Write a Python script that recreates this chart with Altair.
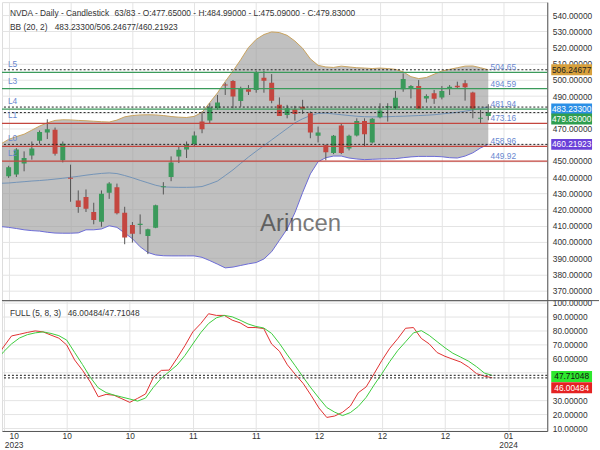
import altair as alt
import pandas as pd

# ---------------- data ----------------
opens = [440.6, 441.6, 448.4, 453.4, 462.5, 467.6, 469.2, 450.4, 439.6, 425.6,
         427.7, 418.5, 412.5, 430.3, 433.8, 418.0, 410.5, 410.5, 403.7, 408.8,
         433.8, 440.1, 452.8, 457.0, 460.4, 474.3, 474.9, 482.5, 497.2, 499.3,
         487.0, 494.2, 493.8, 501.3, 498.3, 484.6, 478.4, 481.9, 483.5, 479.4,
         465.5, 459.6, 454.9, 471.9, 457.6, 465.7, 474.7, 461.4, 477.0, 483.0,
         482.5, 494.2, 494.8, 496.2, 488.6, 491.7, 489.2, 494.8, 496.4, 497.9,
         492.3, 476.0, 477.65]
highs = [447.0, 457.9, 455.9, 462.0, 468.8, 475.7, 470.6, 462.0, 447.7, 431.8,
         432.4, 424.2, 431.8, 436.9, 436.0, 421.7, 412.3, 417.0, 408.2, 423.0,
         436.9, 452.8, 459.0, 462.0, 468.2, 480.5, 485.6, 490.7, 498.3, 499.9,
         495.8, 496.8, 505.6, 505.6, 503.6, 489.2, 484.6, 484.0, 487.7, 480.5,
         471.2, 460.0, 466.0, 473.3, 466.2, 476.3, 476.3, 476.5, 485.6, 485.6,
         493.2, 504.0, 496.8, 499.9, 491.1, 493.8, 496.2, 496.8, 498.9, 499.9,
         492.7, 481.5, 484.99]
lows = [439.5, 440.1, 443.6, 450.8, 460.6, 463.5, 453.3, 449.1, 424.8, 418.0,
        418.5, 410.9, 409.4, 426.6, 417.0, 398.6, 399.6, 404.8, 392.5, 408.5,
        429.3, 437.5, 448.7, 451.8, 459.0, 467.1, 473.3, 481.5, 490.7, 482.5,
        483.5, 490.7, 492.1, 492.1, 485.6, 477.8, 476.3, 474.9, 479.0, 464.0,
        461.4, 450.4, 454.2, 454.2, 456.5, 465.1, 459.0, 460.8, 476.3, 474.3,
        481.9, 492.7, 488.6, 481.9, 486.0, 485.2, 488.0, 490.7, 494.8, 487.2,
        476.3, 473.3, 475.09]
closes = [446.1, 457.0, 451.8, 457.6, 467.8, 469.6, 454.5, 460.6, 439.0, 421.5,
          420.5, 413.6, 429.7, 436.0, 417.7, 402.7, 405.1, 411.2, 407.8, 422.7,
          434.4, 449.1, 456.9, 460.0, 465.7, 469.6, 482.9, 486.0, 496.6, 489.7,
          494.8, 492.7, 504.4, 499.5, 487.2, 477.8, 482.5, 479.0, 482.1, 467.6,
          467.6, 455.3, 465.5, 454.9, 465.5, 474.7, 466.5, 476.0, 481.1, 483.8,
          489.0, 500.5, 496.2, 482.1, 490.0, 488.3, 493.2, 495.8, 495.4, 495.4,
          482.1, 476.6, 479.83]

# Bollinger band (20, 2), starting one bar before the first visible candle
bb_upper = [460.5, 463.3, 465.0, 466.5, 469.0, 471.5, 473.5, 475.0, 475.4, 475.3, 475.0,
            474.8, 474.5, 474.2, 474.0, 475.2, 477.2, 478.0, 478.4, 478.5, 478.4,
            478.0, 477.4, 477.0, 476.8, 477.5, 480.0, 486.0, 492.0, 499.0, 505.5,
            512.5, 520.0, 525.0, 528.0, 529.6, 529.2, 527.5, 524.0, 519.5, 513.0,
            509.0, 508.0, 507.7, 508.5, 508.0, 507.5, 507.3, 507.0, 507.3, 507.0,
            506.5, 505.0, 502.0, 500.8, 501.5, 503.5, 505.5, 506.5, 507.5, 508.5,
            508.6, 507.5, 506.24677]
bb_mid = [436.2, 436.4, 436.8, 437.2, 437.6, 437.9, 438.3, 438.8, 439.3, 439.9, 440.5,
          441.2, 441.8, 442.3, 442.6, 442.2, 441.0, 439.6, 438.0, 436.5, 435.0,
          434.0, 433.8, 433.7, 433.7, 433.8, 434.2, 435.8, 437.6, 441.0, 444.5,
          448.5, 452.4, 456.0, 459.5, 463.0, 466.5, 470.0, 473.5, 476.0, 478.0,
          479.3, 479.5, 479.0, 478.5, 478.0, 477.6, 477.3, 477.2, 477.2, 477.3,
          477.5, 477.6, 477.8, 478.0, 478.2, 478.5, 479.0, 479.5, 480.0, 480.7,
          481.5, 482.4, 483.233]
bb_lower = [409.5, 409.0, 408.3, 407.5, 407.0, 406.7, 406.0, 405.5, 405.4, 405.4, 405.6,
            407.5, 407.5, 408.0, 410.0, 409.0, 405.5, 402.0, 397.0, 393.5, 392.0,
            391.5, 391.4, 391.4, 391.4, 391.4, 390.5, 388.5, 386.3, 384.0, 384.5,
            385.5, 386.5, 387.3, 389.5, 394.0, 401.0, 408.0, 418.0, 430.5, 442.0,
            449.5, 452.0, 453.0, 453.0, 451.8, 451.2, 450.8, 451.0, 451.2, 451.3,
            451.4, 452.0, 452.5, 452.8, 452.8, 452.8, 452.6, 452.0, 451.8, 453.0,
            455.0, 458.0, 460.21923]

# Full stochastic (5, 8, 3), starting one bar before the first visible candle
stoch_k = [60.0, 68.3, 76.0, 77.2, 78.5, 79.6, 78.9, 76.6, 74.4, 69.5, 58.8,
           51.4, 43.0, 32.4, 34.1, 33.5, 31.0, 28.4, 31.3, 34.4, 46.4,
           51.3, 51.5, 60.0, 69.0, 78.9, 84.8, 91.9, 90.7, 90.7, 87.3,
           85.4, 82.0, 82.0, 81.3, 70.2, 65.0, 55.3, 48.4, 42.0, 33.5,
           24.4, 17.6, 18.6, 21.3, 25.8, 35.3, 39.5, 48.9, 58.5, 67.2,
           74.0, 81.5, 82.0, 74.2, 70.3, 64.1, 61.4, 59.3, 57.3, 53.7,
           49.0, 47.2, 46.00484]
stoch_d = [58.0, 64.7, 70.3, 74.5, 76.9, 78.2, 78.9, 77.8, 76.2, 73.0, 64.2,
           55.5, 46.3, 38.8, 35.4, 33.6, 32.2, 30.8, 29.3, 31.5, 39.2,
           45.7, 50.4, 55.1, 62.0, 70.2, 78.3, 84.9, 89.0, 90.7, 89.7,
           87.3, 84.6, 82.8, 81.7, 77.8, 70.6, 62.4, 54.6, 46.5, 38.7,
           31.5, 24.7, 21.4, 18.9, 21.1, 25.5, 32.0, 40.8, 49.0, 57.7,
           65.5, 71.8, 78.2, 79.8, 76.4, 71.9, 67.5, 63.6, 60.8, 57.9,
           54.0, 49.4, 47.71048]

level_names = ["L5", "L3", "L4", "L1", "L0", "L2"]
level_values = [504.65, 494.59, 481.94, 473.16, 458.96, 449.92]
level_kinds = ["res", "res", "res", "sup", "sup", "sup"]

price_marks = [506.24677, 483.23300, 479.83000, 460.21923]   # upper, middle, close, lower
stoch_marks = [47.71048, 46.00484]                             # %D, %K

x_ticks = [0, 8, 16, 24, 32, 40, 48, 56, 64]
x_tick_labels = ["10|2023", "10", "10", "11", "11", "12", "12", "12", "01|2024"]
price_ticks = [370, 380, 390, 400, 410, 420, 430, 440, 450, 460, 470, 480, 490,
               500, 510, 520, 530, 540]
stoch_ticks = [10, 20, 30, 40, 50, 60, 70, 80, 90, 100]
# tick labels hidden under the value badges in the reference
covered_price_ticks = [480, 460]
covered_stoch_ticks = [50, 40]

symbol = "NVDA"
shown, total = 63, 83

# ---------------- tables ----------------
n = len(opens)
candle_df = pd.DataFrame({"i": list(range(n)), "open": opens, "high": highs,
                          "low": lows, "close": closes})
candle_df["dir"] = ["up" if c >= o else "down" for o, c in zip(opens, closes)]
band_df = pd.DataFrame({"i": list(range(-1, n)), "upper": bb_upper,
                        "mid": bb_mid, "lower": bb_lower})
stoch_df = pd.DataFrame({"i": list(range(-1, n)), "k": stoch_k, "d": stoch_d})
level_df = pd.DataFrame({"name": level_names, "value": level_values, "kind": level_kinds})
mark_df = pd.DataFrame({"value": price_marks})
smark_df = pd.DataFrame({"value": stoch_marks})

FONT = "Liberation Sans"
FS = 8.4
W = 548
H_TOP = 300
H_BOT = 131

xscale = alt.Scale(domain=[-0.215, 68.98], nice=False, zero=False)
ytop_scale = alt.Scale(domain=[363.8, 548.0], nice=False, zero=False)
ybot_scale = alt.Scale(domain=[7.9, 101.3], nice=False, zero=False)

x_axis_top = alt.Axis(values=x_ticks, labels=False, ticks=False, domain=False,
                      grid=True, gridColor="#e4e4e4", title=None)


def build_label_expr(ticks, labels):
    expr = "''"
    for t, lab in reversed(list(zip(ticks, labels))):
        expr = f"(datum.value == {t} ? '{lab}' : {expr})"
    return f"split({expr}, '|')"


def hide_expr(hidden):
    arr = "[" + ", ".join(str(h) for h in hidden) + "]"
    return f"indexof({arr}, datum.value) >= 0 ? '' : datum.label"


x_axis_bot = alt.Axis(values=x_ticks, labelExpr=build_label_expr(x_ticks, x_tick_labels),
                      ticks=False, domain=True, domainColor="#555555", grid=True,
                      gridColor="#e4e4e4", title=None, labelFontSize=FS, labelColor="#333333",
                      labelFont=FONT, labelPadding=1, labelLineHeight=8.6,
                      labelFlush=False, labelOverlap=False, labelBaseline="top",
                      labelOffset={"condition": {"test": "datum.value == 0", "value": 10},
                                   "value": 0})

y_axis_top = alt.Axis(orient="right", values=price_ticks, format=".5f",
                      labelExpr=hide_expr(covered_price_ticks), ticks=False,
                      domain=True, domainColor="#555555", grid=True, gridColor="#e4e4e4",
                      title=None, labelFontSize=FS, labelColor="#333333", labelFont=FONT,
                      labelPadding=5, labelOverlap=False)
y_axis_bot = alt.Axis(orient="right", values=stoch_ticks, format=".5f",
                      labelExpr=hide_expr(covered_stoch_ticks), ticks=False,
                      domain=True, domainColor="#555555", grid=True, gridColor="#e4e4e4",
                      title=None, labelFontSize=FS, labelColor="#333333", labelFont=FONT,
                      labelPadding=5, labelOverlap=False)


def XT():
    return alt.X("i:Q", scale=xscale, axis=x_axis_top)


def XB():
    return alt.X("i:Q", scale=xscale, axis=x_axis_bot)


def YT(f):
    return alt.Y(f"{f}:Q", scale=ytop_scale, axis=y_axis_top)


def YB(f):
    return alt.Y(f"{f}:Q", scale=ybot_scale, axis=y_axis_bot)


def text_layer(txt, x, y, size=FS, color="#333333", align="left", **kw):
    return alt.Chart(pd.DataFrame({"t": [txt]})).mark_text(
        align=align, baseline="middle", font=FONT, fontSize=size, color=color, **kw
    ).encode(x=alt.value(x), y=alt.value(y), text="t:N")


# ---------------- top panel ----------------
band = alt.Chart(band_df)
top_layers = [
    band.mark_area(color="#9a9a9a", opacity=0.62, clip=True).encode(
        x=XT(), y=YT("lower"), y2="upper:Q"),
    band.mark_line(color="#c9a25e", strokeWidth=1, clip=True).encode(x=XT(), y=YT("upper")),
    band.mark_line(color="#6b6bd6", strokeWidth=1, clip=True).encode(x=XT(), y=YT("lower")),
    band.mark_line(color="#7393b6", strokeWidth=1, clip=True).encode(x=XT(), y=YT("mid")),
    alt.Chart(candle_df).mark_rule(color="#555555", strokeWidth=1, clip=True).encode(
        x=XT(), y=YT("low"), y2="high:Q"),
    alt.Chart(candle_df).mark_bar(size=5, clip=True).encode(
        x=XT(), y=YT("open"), y2="close:Q",
        color=alt.Color("dir:N", scale=alt.Scale(domain=["up", "down"],
                                                 range=["#3b9a5b", "#c4463f"]), legend=None)),
    alt.Chart(level_df).mark_rule(strokeWidth=1.2).encode(
        y=YT("value"),
        color=alt.Color("kind:N", scale=alt.Scale(domain=["res", "sup"],
                                                  range=["#4ccc4c", "#cc3b3b"]), legend=None)),
    alt.Chart(mark_df).mark_rule(color="#222222", strokeWidth=1, strokeDash=[2, 2]).encode(
        y=YT("value")),
    alt.Chart(level_df).mark_text(align="left", baseline="middle", dy=-8, font=FONT,
                                  fontSize=FS, color="#6a88d0").encode(
        x=alt.value(6), y=YT("value"), text="name:N"),
    alt.Chart(level_df).mark_text(align="left", baseline="middle", dy=-5, font=FONT,
                                  fontSize=FS, color="#6a88d0").encode(
        x=alt.value(491), y=YT("value"), text=alt.Text("value:Q", format=".2f")),
]

badge_styles_top = [("#d7a03c", "#222222", 0), ("#2b8fe6", "#ffffff", 2),
                    ("#2f9e4f", "#ffffff", 6.5), ("#6a40d8", "#ffffff", 0)]
for v, (fill, tcol, nudge) in zip(price_marks, badge_styles_top):
    d = alt.Chart(pd.DataFrame({"value": [v]}))
    top_layers.append(d.mark_rect(color=fill, yOffset=-5.5 + nudge, y2Offset=5.5 + nudge).encode(
        x=alt.value(552), x2=alt.value(593), y=YT("value"), y2="value:Q"))
    top_layers.append(d.mark_text(align="center", baseline="middle", dy=nudge, font=FONT,
                                  fontSize=FS, color=tcol).encode(
        x=alt.value(572.5), y=YT("value"), text=alt.Text("value:Q", format=".5f")))

header_a = f"{symbol} - Daily - Candlestick"
header_b = (f"{shown}/{total} - O:{opens[-1]:.5f} - H:{highs[-1]:.5f} - "
            f"L:{lows[-1]:.5f} - C:{closes[-1]:.5f}")
bb_a = "BB (20, 2)"
bb_b = f"{bb_mid[-1]:.5f}/{bb_upper[-1]:.5f}/{bb_lower[-1]:.5f}"
top_layers += [
    text_layer(header_a, 8, 10.5),
    text_layer(header_b, 113, 10.5),
    text_layer(bb_a, 8, 25),
    text_layer(bb_b, 53, 25),
    text_layer("Arincen", 300, 223, size=24, color="#222222", align="center", opacity=0.6),
]

top = alt.layer(*top_layers).properties(width=W, height=H_TOP)

# ---------------- bottom panel ----------------
st = alt.Chart(stoch_df)
bot_layers = [
    st.mark_line(color="#e03030", strokeWidth=1, clip=True).encode(x=XB(), y=YB("k")),
    st.mark_line(color="#3ccc3c", strokeWidth=1, clip=True).encode(x=XB(), y=YB("d")),
    alt.Chart(smark_df).mark_rule(color="#444444", strokeWidth=1.2, strokeDash=[2, 2]).encode(
        y=YB("value")),
    alt.Chart(pd.DataFrame({"a": [0]})).mark_rule(color="#555555", strokeWidth=1).encode(
        x=alt.value(0), x2=alt.value(600), y=alt.value(0)),
]
badge_styles_bot = [("#2ee82e", "#111111", 1), ("#e42222", "#ffffff", 10)]
for v, (fill, tcol, nudge) in zip(stoch_marks, badge_styles_bot):
    d = alt.Chart(pd.DataFrame({"value": [v]}))
    bot_layers.append(d.mark_rect(color=fill, yOffset=-5.5 + nudge, y2Offset=5.5 + nudge).encode(
        x=alt.value(552), x2=alt.value(593), y=YB("value"), y2="value:Q"))
    bot_layers.append(d.mark_text(align="center", baseline="middle", dy=nudge, font=FONT,
                                  fontSize=FS, color=tcol).encode(
        x=alt.value(572.5), y=YB("value"), text=alt.Text("value:Q", format=".5f")))

st_a = "FULL (5, 8, 3)"
st_b = f"{stoch_k[-1]:.5f}/{stoch_d[-1]:.5f}"
bot_layers += [text_layer(st_a, 8, 12), text_layer(st_b, 66, 12)]

bottom = alt.layer(*bot_layers).properties(width=W, height=H_BOT)

chart = alt.vconcat(top, bottom, spacing=0, bounds="flush").properties(
    padding=0, background="white"
).configure_view(stroke=None).configure(font=FONT)

chart.save("out.html", embed_options={"renderer": "svg", "actions": False})
